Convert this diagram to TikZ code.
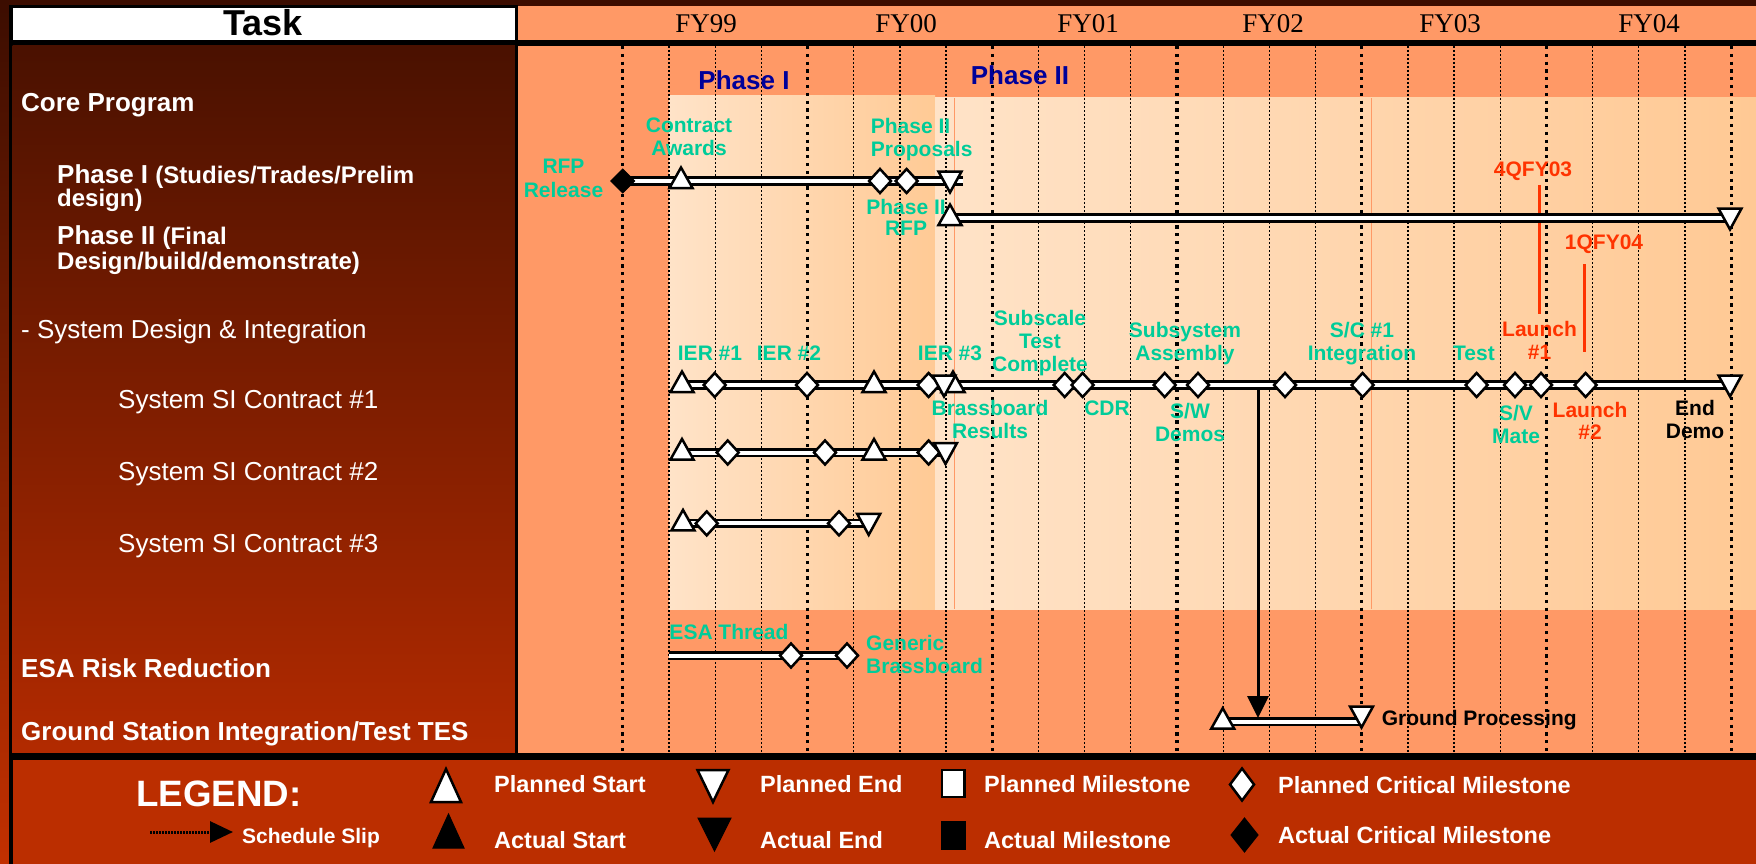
\documentclass[tikz,border=0pt]{standalone}
\usepackage{fontspec}
\setmainfont{Liberation Serif}
\newfontfamily\arial{Liberation Sans}
\usetikzlibrary{arrows.meta}
\definecolor{bgor}{HTML}{FF9966}
\definecolor{lpeach}{HTML}{FFE3C8}
\definecolor{mpeach}{HTML}{FFDFBF}
\definecolor{dpeach}{HTML}{FFCA95}
\definecolor{mpeachb}{HTML}{FFD8B2}
\definecolor{dpeachb}{HTML}{FFC994}
\definecolor{mteal}{HTML}{00CC99}
\definecolor{mred}{HTML}{FF3300}
\definecolor{mblue}{HTML}{000099}
\definecolor{legbg}{HTML}{BB2E00}
\definecolor{paneltop}{HTML}{4A1100}
\definecolor{panelbot}{HTML}{B22A00}
\definecolor{frametop}{HTML}{3C0D00}
\definecolor{framebot}{HTML}{C23000}
\newcommand{\fs}[1]{\fontsize{#1}{#1}\selectfont}
\begin{document}
\begin{tikzpicture}[x=1pt,y=-1pt,
  bar/.style={draw=black,line width=2.7pt,double=white,double distance=4pt},
  mk/.style={draw=black,fill=white,line width=2.5pt,line join=miter},
  mkb/.style={draw=black,fill=black,line width=1pt,line join=miter},
  lbl/.style={font=\arial\bfseries\fs{21},text=mteal,inner sep=0pt,anchor=base},
  rlbl/.style={lbl,text=mred},
  klbl/.style={lbl,text=black},
  tsk/.style={font=\arial\bfseries\fs{26},text=white,inner sep=0pt,anchor=base west},
  tskn/.style={font=\arial\fs{26},text=white,inner sep=0pt,anchor=base west},
  fy/.style={font=\fs{27},text=black,inner sep=0pt,anchor=base},
  phl/.style={font=\arial\bfseries\fs{26},text=mblue,inner sep=0pt,anchor=base},
  leg/.style={font=\arial\bfseries\fs{23.5},text=white,inner sep=0pt,anchor=base west},
  gthick/.style={line width=3.2pt,dash pattern=on 3.2pt off 4.6pt},
  gthin/.style={line width=1.3pt,dash pattern=on 1.7pt off 2.3pt},
  redline/.style={draw=mred,line width=2.5pt},
  pics/ps/.style={code={\path[mk] (-11.5,7) -- (11.5,7) -- (0,-13.5) -- cycle;}},
  pics/pe/.style={code={\path[mk] (-11.5,-9.5) -- (11.5,-9.5) -- (0,11.5) -- cycle;}},
  pics/pcm/.style={code={\path[mk] (0,-12) -- (11,0) -- (0,12) -- (-11,0) -- cycle;}},
  pics/acm/.style={code={\path[mkb] (0,-12) -- (12,0) -- (0,12) -- (-12,0) -- cycle;}},
]
\useasboundingbox (0,0) rectangle (1756,864);
% frame and panels
\shade[top color=frametop,bottom color=framebot] (0,0) rectangle (1756,864);
\fill[black] (8.6,5) rectangle (518,46);
\fill[white] (12.6,8) rectangle (515,40);
\fill[bgor] (518,6) rectangle (1756,40);
\fill[black] (8.6,40) rectangle (1756,46);
\fill[black] (8.6,5) rectangle (12.6,864);
\shade[top color=paneltop,bottom color=panelbot] (12.6,46) rectangle (515,753);
\fill[bgor] (518,46) rectangle (1756,753);
\fill[legbg] (12.6,760) rectangle (1756,864);
% phase shading
\shade[left color=lpeach,middle color=mpeach,right color=dpeach] (668.8,96) rectangle (935,609);
\shade[left color=lpeach,middle color=mpeachb,right color=dpeachb] (935,98) rectangle (1756,609);
\draw[bgor,line width=1pt] (954.5,98) -- (954.5,609);
\draw[bgor,line width=1pt] (1371,98) -- (1371,609);
% grid
\foreach \q in {0,...,24}{
  \pgfmathsetmacro{\xx}{622.8+46.18*\q}
  \pgfmathtruncatemacro{\mm}{mod(\q,4)}
  \ifnum\mm=0 \draw[gthick] (\xx,46) -- (\xx,753);
  \else \draw[gthin] (\xx,46) -- (\xx,753); \fi
}
% separators
\fill[black] (515,40) rectangle (518,760);
\fill[black] (8.6,753) rectangle (1756,760);
% header texts
\node[font=\arial\bfseries\fs{36},inner sep=0pt,anchor=base] (task) at (262.7,36) {Task};
\node[fy] (fy99) at (706,33) {FY99};
\node[fy] (fy00) at (906,33) {FY00};
\node[fy] (fy01) at (1088,33) {FY01};
\node[fy] (fy02) at (1273,33) {FY02};
\node[fy] (fy03) at (1450,33) {FY03};
\node[fy] (fy04) at (1649,33) {FY04};
\node[phl] (ph1) at (744,90) {Phase I};
\node[phl] (ph2) at (1020,85) {Phase II};
% left panel
\node[tsk] (lcore) at (21,112) {Core Program};
\node[tsk] (lph1a) at (57,183) {Phase I {\fs{24}(Studies/Trades/Prelim}};
\node[tsk,font=\arial\bfseries\fs{24}] (lph1b) at (57,206) {design)};
\node[tsk] (lph2a) at (57,244) {Phase II {\fs{24}(Final}};
\node[tsk,font=\arial\bfseries\fs{24}] (lph2b) at (57,269) {Design/build/demonstrate)};
\node[tskn] (lsys) at (21,338) {- System Design \& Integration};
\node[tskn] (lsi1) at (118,408) {System SI Contract \#1};
\node[tskn] (lsi2) at (118,480) {System SI Contract \#2};
\node[tskn] (lsi3) at (118,552) {System SI Contract \#3};
\node[tsk] (lesa) at (21,677) {ESA Risk Reduction};
\node[tsk] (lgnd) at (21,740) {Ground Station Integration/Test TES};
% red markers
\coordinate (r1a) at (1539.7,185); \coordinate (r1b) at (1539.7,314);
\coordinate (r2a) at (1584.7,264); \coordinate (r2b) at (1584.7,352);
\draw[redline] (r1a) -- (r1b);
\draw[redline] (r2a) -- (r2b);
% bars
\coordinate (p1s) at (622.7,181); \coordinate (p1e) at (963,181);
\coordinate (p2s) at (950,218);   \coordinate (p2e) at (1735,218);
\coordinate (s1s) at (682,385);   \coordinate (s1e) at (1735,385);
\coordinate (s2s) at (682,452.5); \coordinate (s2e) at (946,452.5);
\coordinate (s3s) at (683,523.4); \coordinate (s3e) at (869,523.4);
\coordinate (es)  at (669,655.5); \coordinate (ee)  at (855,655.5);
\coordinate (gs)  at (1222.7,721.7); \coordinate (ge) at (1361.5,721.7);
\draw[bar] (p1s) -- (p1e);
\draw[bar] (p2s) -- (p2e);
\draw[bar] (s1s) -- (s1e);
\draw[bar] (s2s) -- (s2e);
\draw[bar] (s3s) -- (s3e);
\draw[bar] (es) -- (ee);
\draw[bar] (gs) -- (ge);
% slip connector
\coordinate (slipT) at (1258,389); \coordinate (slipB) at (1258,718);
\draw[line width=3pt,-{Triangle[length=22pt,width=21pt]}] (slipT) -- (slipB);
% markers phase rows
\pic (m1) at (622.7,181) {acm};
\pic (m2) at (681,181) {ps};
\pic (m3) at (880,181) {pcm};
\pic (m4) at (906.6,181) {pcm};
\pic (m5) at (950,181) {pe};
\pic (m6) at (950,218) {ps};
\pic (m7) at (1730,218) {pe};
% SI 1
\pic (a1) at (682,385) {ps};
\pic (a2) at (714.7,385) {pcm};
\pic (a3) at (807,385) {pcm};
\pic (a4) at (874,385) {ps};
\pic (a5) at (953,385) {ps};
\pic (a6) at (928.6,385) {pcm};
\pic (a7) at (944,385) {pe};
\foreach \xx [count=\i] in {1064.7,1082.6,1164.7,1198,1285,1362.6,1476.6,1515,1541,1585.6}
  \pic (b\i) at (\xx,385) {pcm};
\pic (a8) at (1730,385) {pe};
% SI 2
\pic (c1) at (682,452.5) {ps};
\pic (c2) at (727.7,452.5) {pcm};
\pic (c3) at (825,452.5) {pcm};
\pic (c4) at (874,452.5) {ps};
\pic (c5) at (928.6,452.5) {pcm};
\pic (c6) at (945.5,452.5) {pe};
% SI 3
\pic (d1) at (683,523.4) {ps};
\pic (d2) at (706.7,523.4) {pcm};
\pic (d3) at (839,523.4) {pcm};
\pic (d4) at (868.7,523.4) {pe};
% ESA
\pic (e1) at (791,655.5) {pcm};
\pic (e2) at (847,655.5) {pcm};
% Ground
\pic (g1) at (1222.7,721.7) {ps};
\pic (g2) at (1361.5,716) {pe};
% timeline labels
\node[lbl] (rfp1) at (563.5,173) {RFP};
\node[lbl] (rfp2) at (563.5,197) {Release};
\node[lbl] (ca1) at (689,133) {Contract};
\node[lbl] (ca2) at (689,155) {Awards};
\node[lbl,anchor=base west] (pp1) at (870.7,134) {Phase II};
\node[lbl,anchor=base west] (pp2) at (870.7,157) {Proposals};
\node[lbl] (pr1) at (906,214) {Phase II};
\node[lbl] (pr2) at (906,235) {RFP};
\node[rlbl] (q4) at (1533,176) {4QFY03};
\node[rlbl] (q1) at (1604,249) {1QFY04};
\node[lbl] (ier1) at (710,360) {IER \#1};
\node[lbl] (ier2) at (789,360) {IER \#2};
\node[lbl] (ier3) at (950,360) {IER \#3};
\node[lbl] (sub1) at (1040,325) {Subscale};
\node[lbl] (sub2) at (1040,348) {Test};
\node[lbl] (sub3) at (1040,371) {Complete};
\node[lbl] (ss1) at (1185,337) {Subsystem};
\node[lbl] (ss2) at (1185,360) {Assembly};
\node[lbl] (sc1) at (1362,337) {S/C \#1};
\node[lbl] (sc2) at (1362,360) {Integration};
\node[lbl] (tst) at (1474,360) {Test};
\node[rlbl] (la1) at (1539.5,336) {Launch};
\node[rlbl] (la2) at (1539.5,359) {\#1};
\node[lbl] (br1) at (990,415) {Brassboard};
\node[lbl] (br2) at (990,438) {Results};
\node[lbl] (cdr) at (1107,415) {CDR};
\node[lbl] (sw1) at (1190,418) {S/W};
\node[lbl] (sw2) at (1190,441) {Demos};
\node[lbl] (sv1) at (1516,420) {S/V};
\node[lbl] (sv2) at (1516,443) {Mate};
\node[rlbl] (lb1) at (1590,417) {Launch};
\node[rlbl] (lb2) at (1590,439) {\#2};
\node[klbl] (ed1) at (1695,415) {End};
\node[klbl] (ed2) at (1695,438) {Demo};
\node[lbl] (esa) at (729,639) {ESA Thread};
\node[lbl,anchor=base west] (gb1) at (866,650) {Generic};
\node[lbl,anchor=base west] (gb2) at (866,673) {Brassboard};
\node[klbl,anchor=base west] (gp) at (1381.6,725.7) {Ground Processing};
% legend
\node[leg,font=\arial\bfseries\fs{36.7}] (legT) at (136,806) {LEGEND:};
\coordinate (slA) at (150,832); \coordinate (slB) at (233,832);
\draw[line width=3pt,dash pattern=on 1.5pt off 1.5pt,-{Triangle[length=23pt,width=21pt]}] (slA) -- (slB);
\node[leg,font=\arial\bfseries\fs{21}] (lslip) at (242,843) {Schedule Slip};
\path[mk] (431,802) -- (461,802) -- (446,769) -- cycle;
\path[mkb] (433,848) -- (464,848) -- (448.5,814) -- cycle;
\path[mk] (697.5,770) -- (728.5,770) -- (713,802) -- cycle;
\path[mkb] (698,818) -- (731,818) -- (714.5,851) -- cycle;
\path[mk] (942,770) rectangle (964.5,797);
\path[mkb] (941,821) rectangle (965,849);
\path[mk] (1242,768.5) -- (1254,784.5) -- (1242,800.5) -- (1230,784.5) -- cycle;
\path[mkb] (1244.5,818) -- (1258,835) -- (1244.5,852) -- (1231,835) -- cycle;
\node[leg] (lps) at (494,792) {Planned Start};
\node[leg] (las) at (494,848) {Actual Start};
\node[leg] (lpe) at (760,792) {Planned End};
\node[leg] (lae) at (760,848) {Actual End};
\node[leg] (lpm) at (984,792) {Planned Milestone};
\node[leg] (lam) at (984,848) {Actual Milestone};
\node[leg] (lpc) at (1278,793) {Planned Critical Milestone};
\node[leg] (lac) at (1278,843) {Actual Critical Milestone};
\end{tikzpicture}
\end{document}
